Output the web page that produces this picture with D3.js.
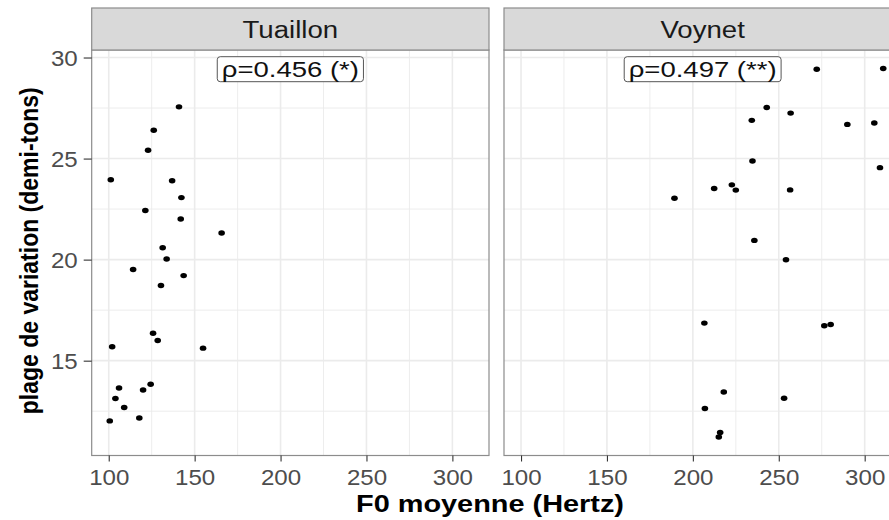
<!DOCTYPE html>
<html>
<head>
<meta charset="utf-8">
<script src="https://cdn.jsdelivr.net/npm/d3@7"></script>
<style>
  html, body { margin: 0; padding: 0; background: #ffffff; }
  svg { display: block; font-family: "Liberation Sans", Arial, Helvetica, sans-serif; }
</style>
</head>
<body>
<svg id="chart" width="889" height="520"></svg>
<script>
// Speaker panels
const speakers = ["Tuaillon", "Voynet"];
const rhoLabels = ["ρ=0.456 (*)", "ρ=0.497 (**)"];

// Mean F0 (Hz) and pitch range (semitones) per utterance
const tuaillonF0 = [140.9, 126.2, 122.9, 101.2, 136.9, 142.3, 121.3, 141.9, 165.7, 131.4, 133.7, 114.2, 143.6,
                    130.4, 125.8, 128.5, 102.0, 154.9, 124.4, 106.0, 120.0, 103.9, 109.0, 117.8, 100.6];
const tuaillonRange = [27.56, 26.40, 25.41, 23.95, 23.90, 23.07, 22.43, 22.01, 21.32, 20.59, 20.03, 19.51, 19.21,
                       18.72, 16.36, 16.00, 15.69, 15.62, 13.83, 13.65, 13.55, 13.13, 12.68, 12.16, 12.02];
const voynetF0 = [272.1, 310.8, 243.0, 256.9, 234.3, 289.9, 305.6, 234.7, 308.9, 212.4, 222.7, 225.0, 256.6,
                  189.3, 235.8, 254.2, 206.7, 276.5, 280.2, 218.0, 253.1, 207.0, 215.9, 215.1];
const voynetRange = [29.42, 29.46, 27.53, 27.25, 26.89, 26.69, 26.76, 24.88, 24.55, 23.52, 23.70, 23.44, 23.45,
                     23.04, 20.95, 19.99, 16.86, 16.73, 16.79, 13.45, 13.14, 12.63, 11.45, 11.22];

// Axis breaks
const xTicks = [100, 150, 200, 250, 300];
const xMinor = [125, 175, 225, 275];
const yTicks = [15, 20, 25, 30];
const yMinor = [12.5, 17.5, 22.5, 27.5];

const xTitle = "F0 moyenne (Hertz)";
const yTitle = "plage de variation (demi-tons)";

const seriesF0 = [tuaillonF0, voynetF0];
const seriesRange = [tuaillonRange, voynetRange];

// Layout
const panelW = 397.3, panelTop = 50, panelBottom = 455.5, stripTop = 8;
const panelLefts = [91.7, 504];

const svg = d3.select("#chart");
const fontBase = "'Liberation Sans', Arial, Helvetica, sans-serif";

// widen glyphs horizontally by factor k
function widen(sel, k) {
  sel.each(function () {
    const w = this.getComputedTextLength();
    d3.select(this).attr("textLength", w * k).attr("lengthAdjust", "spacingAndGlyphs");
  });
}

// Shared scales with 5% expansion on each side
const allF0 = tuaillonF0.concat(voynetF0);
const allR = tuaillonRange.concat(voynetRange);
const xExt = d3.extent(allF0), yExt = d3.extent(allR);
const xPad = (xExt[1] - xExt[0]) * 0.05, yPad = (yExt[1] - yExt[0]) * 0.05;
const y = d3.scaleLinear().domain([yExt[0] - yPad, yExt[1] + yPad]).range([panelBottom, panelTop]);

speakers.forEach((name, i) => {
  const left = panelLefts[i];
  const x = d3.scaleLinear().domain([xExt[0] - xPad, xExt[1] + xPad]).range([left, left + panelW]);
  const g = svg.append("g");

  // panel background
  g.append("rect").attr("x", left).attr("y", panelTop)
    .attr("width", panelW).attr("height", panelBottom - panelTop).attr("fill", "#ffffff");

  // grid: minor then major
  const grid = g.append("g").attr("stroke", "#ebebeb").attr("fill", "none");
  xMinor.forEach(v => grid.append("line").attr("x1", x(v)).attr("x2", x(v))
    .attr("y1", panelTop).attr("y2", panelBottom).attr("stroke-width", 0.9));
  yMinor.forEach(v => grid.append("line").attr("y1", y(v)).attr("y2", y(v))
    .attr("x1", left).attr("x2", left + panelW).attr("stroke-width", 0.9));
  xTicks.forEach(v => grid.append("line").attr("x1", x(v)).attr("x2", x(v))
    .attr("y1", panelTop).attr("y2", panelBottom).attr("stroke-width", 1.6));
  yTicks.forEach(v => grid.append("line").attr("y1", y(v)).attr("y2", y(v))
    .attr("x1", left).attr("x2", left + panelW).attr("stroke-width", 1.6));

  // points
  g.append("g").selectAll("ellipse")
    .data(seriesF0[i].map((f, k) => [f, seriesRange[i][k]]))
    .join("ellipse")
    .attr("cx", d => x(d[0])).attr("cy", d => y(d[1]))
    .attr("rx", 3.3).attr("ry", 2.7).attr("fill", "#000000");

  // correlation label box
  const lbl = g.append("g");
  const cx = left + panelW / 2;
  const t = lbl.append("text").attr("x", cx).attr("y", 77)
    .attr("text-anchor", "middle").attr("font-size", 22).attr("fill", "#111111")
    .style("font-family", fontBase).text(rhoLabels[i]);
  widen(t, 1.25);
  const bb = t.node().getBBox();
  lbl.insert("rect", "text").attr("x", bb.x - 4.5).attr("y", 56.7)
    .attr("width", bb.width + 9).attr("height", 25).attr("rx", 3)
    .attr("fill", "#ffffff").attr("stroke", "#555555").attr("stroke-width", 1);

  // panel border
  g.append("rect").attr("x", left).attr("y", panelTop)
    .attr("width", panelW).attr("height", panelBottom - panelTop)
    .attr("fill", "none").attr("stroke", "#8c8c8c").attr("stroke-width", 1.2);

  // strip
  g.append("rect").attr("x", left).attr("y", stripTop)
    .attr("width", panelW).attr("height", panelTop - stripTop)
    .attr("fill", "#d9d9d9").attr("stroke", "#8c8c8c").attr("stroke-width", 1.2);
  const st = g.append("text").attr("x", left + panelW / 2).attr("y", 38)
    .attr("text-anchor", "middle").attr("font-size", 23).attr("fill", "#1a1a1a")
    .style("font-family", fontBase).text(name);
  widen(st, 1.2);

  // x axis
  const xa = d3.axisBottom(x).tickValues(xTicks).tickSize(6).tickPadding(8).tickFormat(d3.format("d"));
  const xg = svg.append("g").attr("transform", `translate(0,${panelBottom})`).call(xa);
  xg.select(".domain").remove();
  xg.selectAll(".tick line").attr("stroke", "#333333").attr("stroke-width", 1.1);
  xg.selectAll(".tick text").attr("fill", "#4d4d4d").attr("font-size", 21.5)
    .style("font-family", fontBase).attr("dy", "0.72em");
  widen(xg.selectAll(".tick text"), 1.12);

  // y axis on the first panel only
  if (i === 0) {
    const ya = d3.axisLeft(y).tickValues(yTicks).tickSize(8).tickPadding(6).tickFormat(d3.format("d"));
    const yg = svg.append("g").attr("transform", `translate(${left},0)`).call(ya);
    yg.select(".domain").remove();
    yg.selectAll(".tick line").attr("stroke", "#333333").attr("stroke-width", 1.1);
    yg.selectAll(".tick text").attr("fill", "#4d4d4d").attr("font-size", 21.5)
      .style("font-family", fontBase).attr("dy", "0.36em");
    widen(yg.selectAll(".tick text"), 1.12);
  }
});

// axis titles
svg.append("text").attr("x", 490).attr("y", 512)
  .attr("text-anchor", "middle").attr("font-size", 23).attr("font-weight", "bold").attr("fill", "#000000")
  .style("font-family", fontBase)
  .attr("textLength", 268).attr("lengthAdjust", "spacingAndGlyphs")
  .text(xTitle);

svg.append("text")
  .attr("transform", `translate(38,${(panelTop + panelBottom) / 2 - 2}) scale(1.1,1) rotate(-90)`)
  .attr("text-anchor", "middle").attr("font-size", 23).attr("font-weight", "bold").attr("fill", "#000000")
  .style("font-family", fontBase).text(yTitle);
</script>
</body>
</html>
